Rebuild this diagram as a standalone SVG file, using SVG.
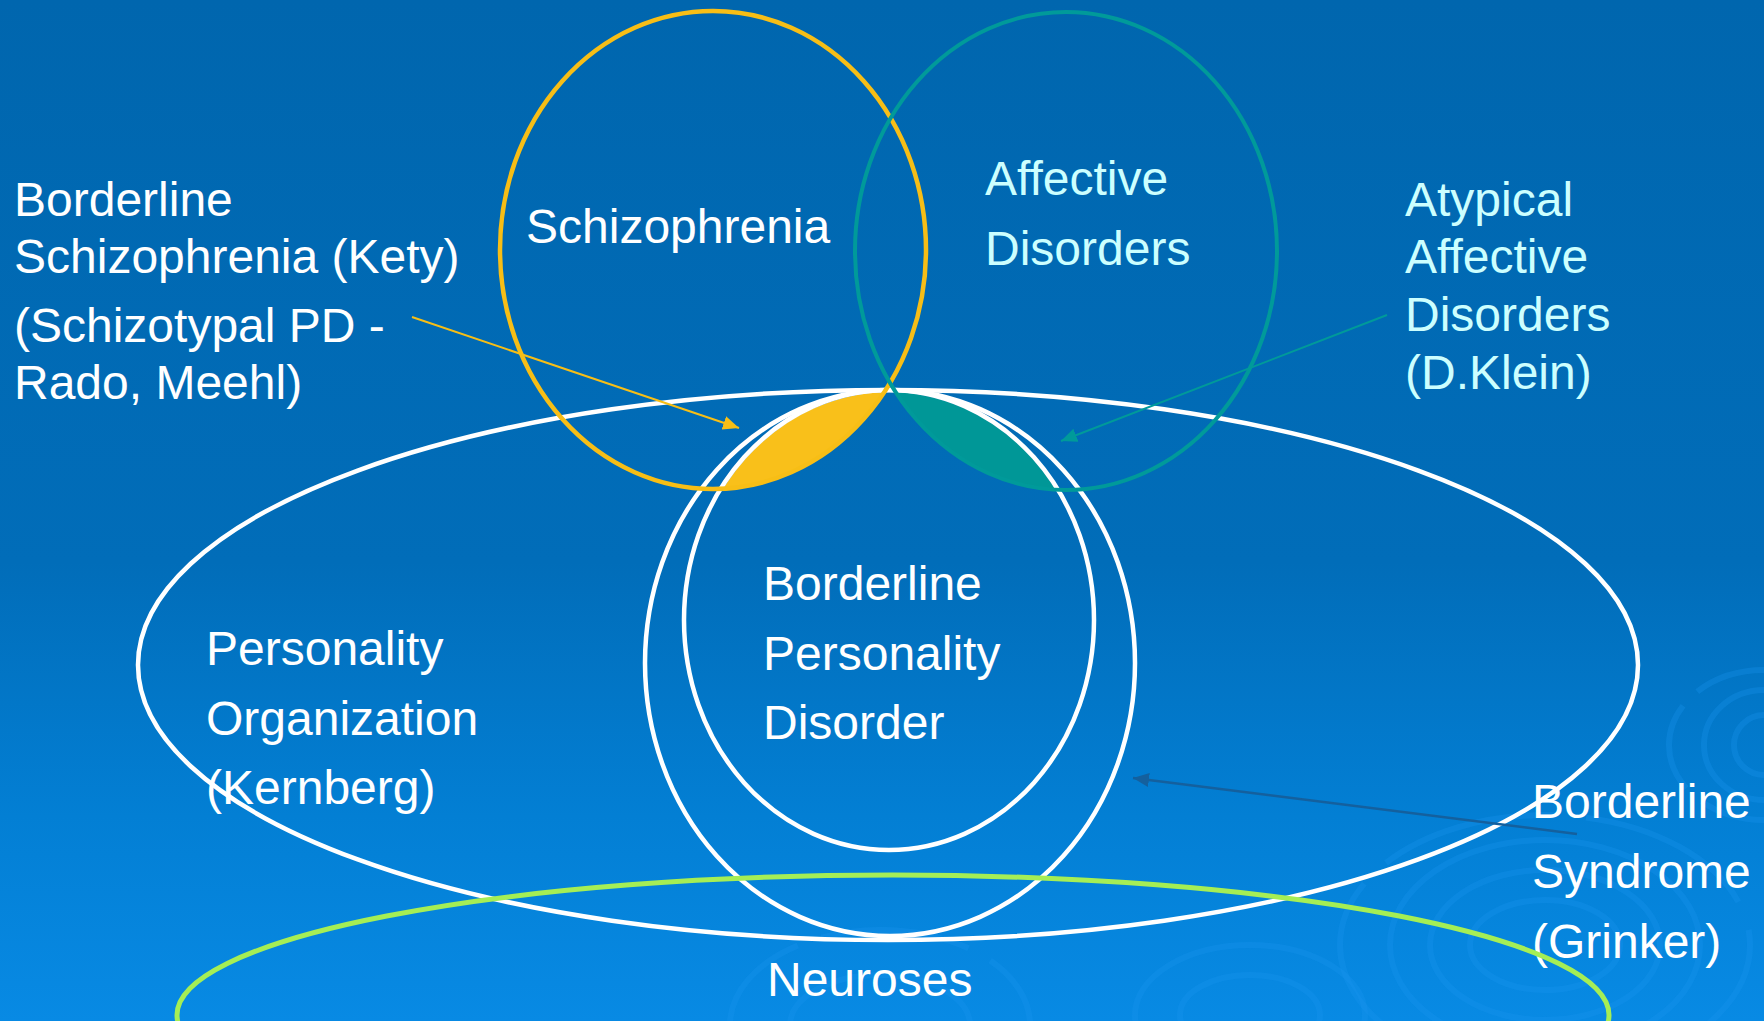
<svg xmlns="http://www.w3.org/2000/svg" width="1764" height="1021" viewBox="0 0 1764 1021">
<defs>
<linearGradient id="bg" x1="0" y1="0" x2="0" y2="1">
<stop offset="0" stop-color="#0066AE"/>
<stop offset="0.55" stop-color="#016DB9"/>
<stop offset="0.8" stop-color="#037FD4"/>
<stop offset="1" stop-color="#088AE4"/>
</linearGradient>
<clipPath id="clipBPD"><ellipse cx="889" cy="620" rx="203" ry="228"/></clipPath>
<marker id="arrY" markerUnits="userSpaceOnUse" markerWidth="18" markerHeight="16" refX="16" refY="7" orient="auto"><path d="M0,0 L16,7 L0,14 z" fill="#F7BE16"/></marker>
<marker id="arrT" markerUnits="userSpaceOnUse" markerWidth="18" markerHeight="16" refX="16" refY="7" orient="auto"><path d="M0,0 L16,7 L0,14 z" fill="#009A9A"/></marker>
<marker id="arrB" markerUnits="userSpaceOnUse" markerWidth="18" markerHeight="16" refX="16" refY="7" orient="auto"><path d="M0,0 L16,7 L0,14 z" fill="#14609E"/></marker>
</defs>
<style>
text { font-family: "Liberation Sans", Arial, sans-serif; font-size: 48px; }
.w { fill: #FFFFFF; }
.c { fill: #CCFFFF; }
.wl { fill: none; stroke: #FFFFFF; stroke-width: 4.5; }
.rip { fill: none; stroke: #1A95F0; stroke-opacity: 0.3; stroke-width: 6; }
</style>
<rect x="0" y="0" width="1764" height="1021" fill="url(#bg)"/>
<g id="ripples">
<ellipse class="rip" cx="1545" cy="945" rx="75" ry="45"/>
<ellipse class="rip" cx="1545" cy="945" rx="115" ry="75"/>
<ellipse class="rip" cx="1545" cy="945" rx="155" ry="105"/>
<ellipse class="rip" cx="1545" cy="945" rx="205" ry="130" stroke-dasharray="180 30"/>
<ellipse class="rip" cx="1250" cy="1015" rx="70" ry="40"/>
<ellipse class="rip" cx="1250" cy="1015" rx="115" ry="70"/>
<ellipse class="rip" cx="880" cy="1025" rx="90" ry="50"/>
<ellipse class="rip" cx="880" cy="1025" rx="150" ry="95" stroke-dasharray="150 25"/>
<ellipse class="rip" cx="1764" cy="745" rx="30" ry="30"/>
<ellipse class="rip" cx="1764" cy="745" rx="60" ry="55"/>
<ellipse class="rip" cx="1764" cy="745" rx="95" ry="75" stroke-dasharray="90 20"/>
</g>
<g id="fills">
<ellipse cx="713" cy="250" rx="213" ry="239" fill="#F9C01A" clip-path="url(#clipBPD)"/>
<ellipse cx="1066" cy="251" rx="211" ry="239" fill="#009797" clip-path="url(#clipBPD)"/>
</g>
<g id="personality-organization"><ellipse class="wl" cx="888" cy="665" rx="750" ry="275"/>
<text class="w" x="206" y="665">Personality</text><text class="w" x="206" y="735">Organization</text><text class="w" x="206" y="804">(Kernberg)</text></g>
<g id="borderline-syndrome"><ellipse class="wl" cx="890" cy="663" rx="245" ry="273"/>
<text class="w" x="1532" y="818">Borderline</text><text class="w" x="1532" y="888">Syndrome</text><text class="w" x="1532" y="958">(Grinker)</text></g>
<g id="bpd"><ellipse class="wl" cx="889" cy="620" rx="205" ry="230"/>
<text class="w" x="763" y="600">Borderline</text><text class="w" x="763" y="670">Personality</text><text class="w" x="763" y="739">Disorder</text></g>
<g id="schizophrenia"><ellipse cx="713" cy="250" rx="213" ry="239" fill="none" stroke="#F7BE16" stroke-width="4.5"/>
<text class="w" x="526" y="243">Schizophrenia</text></g>
<g id="affective"><ellipse cx="1066" cy="251" rx="211" ry="239" fill="none" stroke="#009A9A" stroke-width="4"/>
<text class="c" x="985" y="195">Affective</text><text class="c" x="985" y="265">Disorders</text></g>
<g id="neuroses"><ellipse cx="893" cy="1015" rx="716" ry="140" fill="none" stroke="#A5EE55" stroke-width="5"/>
<text class="w" x="767" y="996">Neuroses</text></g>
<g id="borderline-schizophrenia"><text class="w" x="14" y="216">Borderline</text><text class="w" x="14" y="273">Schizophrenia (Kety)</text><text class="w" x="14" y="342">(Schizotypal PD -</text><text class="w" x="14" y="399">Rado, Meehl)</text></g>
<g id="atypical-affective"><text class="c" x="1405" y="216">Atypical</text><text class="c" x="1405" y="273">Affective</text><text class="c" x="1405" y="331">Disorders</text><text class="c" x="1405" y="389">(D.Klein)</text></g>
<g id="connectors">
<line x1="412" y1="317" x2="739" y2="428" stroke="#F7BE16" stroke-width="2" marker-end="url(#arrY)"/>
<line x1="1387" y1="315" x2="1061" y2="441" stroke="#009A9A" stroke-width="2" marker-end="url(#arrT)"/>
<line x1="1577" y1="834" x2="1133" y2="778" stroke="#14609E" stroke-width="2.5" marker-end="url(#arrB)"/>
</g>
</svg>
